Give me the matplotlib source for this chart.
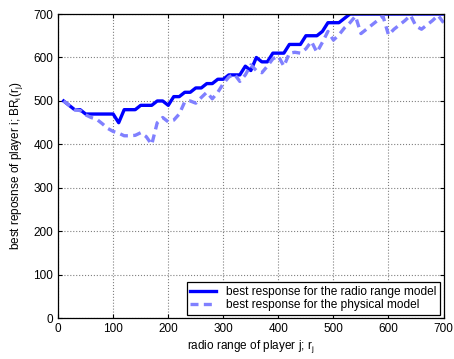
import numpy as np
import matplotlib

matplotlib.use("Agg")
import matplotlib.pyplot as plt

plt.rcParams["font.family"] = ["Liberation Sans", "DejaVu Sans"]
plt.rcParams["mathtext.fontset"] = "custom"
plt.rcParams["mathtext.rm"] = "Liberation Sans"
plt.rcParams["mathtext.it"] = "Liberation Sans"

# radio range of player j
radio_range = list(range(10, 701, 10))

# best response, radio range model
br_radio = [500, 490, 480, 480, 470, 470, 470, 470, 470, 470,
            450, 480, 480, 480, 490, 490, 490, 500, 500, 490,
            510, 510, 520, 520, 530, 530, 540, 540, 550, 550,
            560, 560, 560, 580, 570, 600, 590, 590, 610, 610,
            610, 630, 630, 630, 650, 650, 650, 660, 680, 680,
            680, 690, 700, 700, 700, 700, 700, 700, 700, 700,
            700, 700, 700, 700, 700, 700, 700, 700, 700, 700]

# best response, physical model
br_physical = [500, 490, 480, 478, 468, 462, 458, 448, 437, 430,
               426, 420, 420, 421, 427, 418, 400, 450, 462, 452,
               456, 470, 498, 500, 495, 508, 520, 505, 520, 540,
               555, 562, 545, 560, 583, 570, 565, 580, 597, 603,
               580, 610, 612, 610, 620, 637, 612, 635, 660, 640,
               652, 668, 680, 695, 655, 665, 675, 685, 695, 652,
               665, 675, 685, 697, 672, 665, 675, 685, 697, 680]

fig = plt.figure(figsize=(4.54, 3.59), dpi=100)
ax = fig.add_axes([0.128, 0.113, 0.849, 0.848])

ax.plot(radio_range, br_radio, color="#0000ff", linewidth=2.4,
        label="best response for the radio range model")
ax.plot(radio_range, br_physical, color="#8080ff", linewidth=2.4,
        linestyle=(0, (2.4, 1.6)),
        label="best response for the physical model")

ax.set_xlim(0, 700)
ax.set_ylim(0, 700)
ax.set_xticks(np.arange(0, 701, 100))
ax.set_yticks(np.arange(0, 701, 100))
ax.tick_params(direction="in", top=True, right=True, labelsize=8.5,
               length=3, width=0.8)
ax.grid(True, linestyle=":", color="#808080", linewidth=0.8)
for s in ax.spines.values():
    s.set_linewidth(0.9)

ax.set_xlabel(r"radio range of player j; r$_\mathregular{j}$", fontsize=8.5,
              labelpad=2)
ax.set_ylabel(r"best reposnse of player i; BR$_\mathregular{i}$(r$_\mathregular{j}$)",
              fontsize=8.5, labelpad=6)

leg = ax.legend(loc="lower right", fontsize=8.6, fancybox=False,
                edgecolor="black", framealpha=1, borderaxespad=0.3,
                handlelength=2.2, borderpad=0.3, labelspacing=0.1)
leg.get_frame().set_linewidth(0.9)

fig.savefig("out.png", dpi=100)
